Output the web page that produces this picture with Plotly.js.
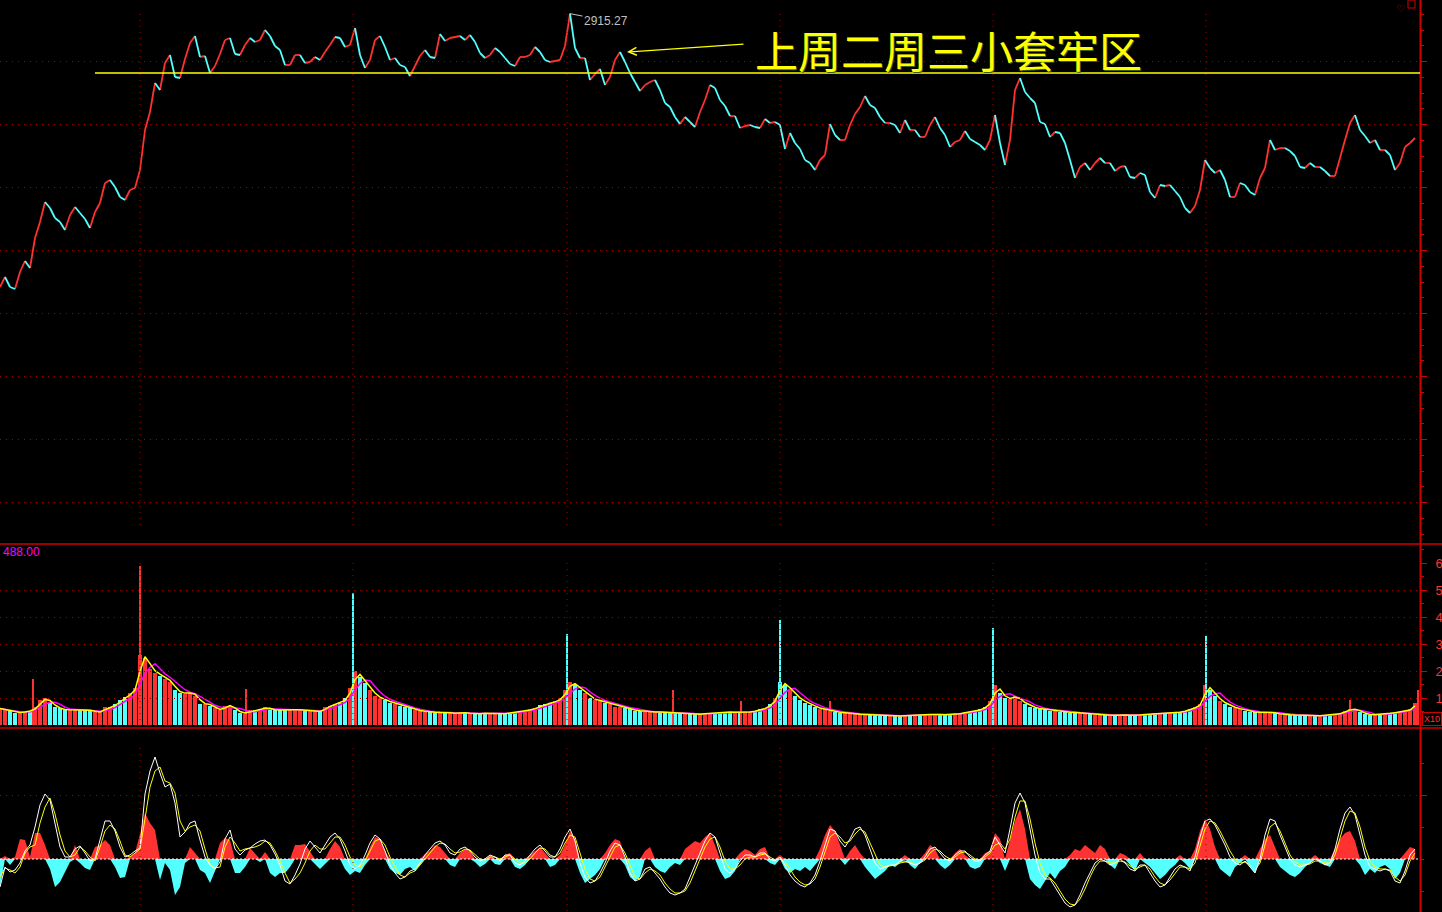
<!DOCTYPE html>
<html><head><meta charset="utf-8">
<script src="https://cdn.plot.ly/plotly-3.0.1.min.js"></script>
<style>html,body{margin:0;padding:0;background:#000;overflow:hidden}#chart{width:1442px;height:912px}</style>
</head><body><div id="chart"></div>
<script>
// ---- data (one sample per ~5.6 trading minutes) ----
const price = [
2860.6,2862.6,2860.6,2860.2,2863.6,2865.8,2864.4,2870.4,2873.6,2877.6,2876.4,2874.4,2873.6,2872.0,2875.0,2876.6,2875.4,2874.2,2872.4,2875.6,
2877.4,2881.4,2882.0,2880.6,2878.6,2878.0,2880.0,2880.4,2884.0,2892.0,2895.6,2901.4,2900.0,2905.4,2907.0,2902.6,2902.4,2906.2,2909.4,2910.8,
2906.6,2906.8,2903.4,2904.8,2907.2,2910.0,2910.4,2907.2,2907.0,2909.0,2910.4,2909.6,2910.0,2912.0,2910.8,2908.8,2908.0,2905.0,2905.0,2907.0,
2907.0,2905.4,2905.6,2906.6,2906.0,2907.6,2909.0,2910.6,2910.4,2908.6,2909.0,2912.4,2907.0,2904.4,2906.0,2910.0,2910.8,2908.6,2906.0,2906.4,
2905.0,2904.6,2902.8,2904.8,2906.8,2908.0,2906.6,2906.4,2911.2,2909.8,2910.4,2910.6,2910.8,2910.0,2911.0,2909.6,2907.4,2906.4,2907.0,2908.4,
2907.6,2906.4,2905.2,2904.8,2906.6,2906.6,2907.0,2908.6,2907.6,2906.0,2905.6,2905.8,2906.0,2908.8,2915.27,2908.4,2906.4,2906.4,2902.0,2903.2,
2904.2,2901.0,2902.6,2906.0,2907.6,2905.6,2903.4,2901.6,2899.8,2901.0,2901.6,2902.0,2900.0,2897.4,2896.6,2894.6,2893.2,2894.6,2893.6,2892.6,
2895.6,2898.0,2901.0,2900.4,2898.0,2896.8,2894.8,2894.8,2892.4,2892.8,2893.0,2892.6,2892.4,2894.2,2893.4,2893.6,2893.0,2888.2,2891.4,2889.4,
2888.2,2886.0,2885.4,2884.0,2886.0,2887.0,2893.2,2891.0,2890.0,2890.0,2893.0,2895.2,2896.6,2898.8,2897.0,2896.4,2894.6,2893.4,2893.4,2893.0,
2891.4,2894.0,2892.0,2892.0,2890.6,2890.6,2893.0,2894.6,2892.4,2891.0,2888.6,2889.6,2890.0,2891.8,2890.2,2889.6,2889.0,2888.0,2890.0,2895.0,
2889.4,2885.0,2890.0,2900.0,2902.4,2899.6,2898.4,2897.4,2893.6,2893.2,2890.6,2891.6,2891.4,2889.4,2886.0,2882.4,2884.6,2885.4,2884.0,2885.4,
2886.4,2885.4,2885.4,2883.8,2884.6,2884.8,2882.6,2882.4,2883.4,2883.0,2879.6,2878.4,2881.0,2880.8,2881.0,2879.8,2878.6,2876.4,2875.4,2876.8,
2880.0,2886.0,2884.4,2883.4,2884.0,2882.0,2878.6,2878.6,2881.4,2881.0,2879.6,2879.0,2882.4,2884.4,2890.0,2888.0,2888.4,2888.4,2887.8,2886.8,
2884.6,2884.4,2885.4,2884.6,2884.6,2883.8,2882.8,2882.8,2886.4,2890.0,2893.4,2895.0,2892.0,2890.8,2889.4,2890.0,2888.0,2888.0,2887.0,2884.0,
2885.4,2888.6,2889.4,2890.4];

const volume = [
0.63,0.56,0.52,0.48,0.48,0.52,0.55,0.67,0.93,1.0,0.85,0.67,0.63,0.56,0.6,0.56,0.6,0.56,0.56,0.5,
0.5,0.67,0.67,0.81,0.93,1.04,1.22,1.4,2.6,2.5,2.1,1.96,1.85,1.74,1.6,1.3,1.22,1.18,1.22,1.1,
0.81,0.81,0.74,0.63,0.56,0.74,0.74,0.56,0.48,0.44,0.56,0.56,0.6,0.67,0.6,0.56,0.58,0.58,0.56,0.6,
0.56,0.58,0.56,0.52,0.52,0.67,0.74,0.81,0.85,1.0,1.4,2.0,1.78,1.56,1.3,1.1,1.0,0.93,0.85,0.81,
0.74,0.67,0.63,0.56,0.55,0.5,0.5,0.48,0.48,0.5,0.45,0.45,0.5,0.45,0.45,0.42,0.45,0.45,0.45,0.45,
0.42,0.45,0.48,0.5,0.5,0.55,0.6,0.65,0.75,0.8,0.85,0.9,1.0,1.3,1.6,1.5,1.3,1.2,1.0,0.95,
0.9,0.85,0.8,0.7,0.7,0.65,0.6,0.55,0.55,0.5,0.5,0.5,0.5,0.48,0.5,0.45,0.45,0.45,0.45,0.42,
0.42,0.45,0.45,0.45,0.48,0.5,0.5,0.48,0.5,0.5,0.5,0.55,0.6,0.65,0.8,1.0,1.6,1.5,1.3,1.1,
0.95,0.85,0.75,0.7,0.6,0.6,0.55,0.5,0.48,0.45,0.45,0.42,0.42,0.4,0.4,0.38,0.38,0.38,0.38,0.35,
0.35,0.38,0.38,0.4,0.4,0.4,0.42,0.42,0.4,0.4,0.42,0.42,0.45,0.5,0.5,0.55,0.6,0.7,0.9,1.5,
1.2,1.0,1.0,1.1,0.9,0.8,0.7,0.65,0.6,0.6,0.55,0.55,0.5,0.5,0.48,0.48,0.45,0.45,0.42,0.4,
0.4,0.38,0.38,0.38,0.4,0.38,0.38,0.38,0.4,0.42,0.42,0.45,0.45,0.45,0.45,0.48,0.5,0.55,0.6,0.7,
0.8,1.5,1.3,1.1,0.9,0.8,0.7,0.65,0.6,0.55,0.5,0.5,0.48,0.5,0.5,0.45,0.42,0.4,0.4,0.38,
0.38,0.38,0.35,0.35,0.38,0.38,0.4,0.42,0.45,0.55,0.6,0.6,0.5,0.42,0.4,0.4,0.42,0.45,0.45,0.5,
0.5,0.55,0.6,0.85];

// single-minute volume spikes (time in sample units)
const spikeTime   = [6.6, 28, 49.2, 70.6, 113.4, 134.6, 148.2, 156, 166, 198.6, 241.2, 270, 283.6];
const spikeVolume = [1.74, 5.9, 1.37, 4.9, 3.4, 1.3, 0.9, 3.9, 0.9, 3.6, 3.3, 0.93, 1.33];
const spikeUp     = [1, 1, 1, 0, 0, 1, 1, 0, 1, 0, 0, 1, 1];

const dif = [
-2.8,-0.8,-1.3,-1.1,-0.4,0.8,1.4,3.2,5.4,6.5,5.9,3.5,1.2,0.2,0.2,1.0,1.3,0.6,-0.2,0,
2.0,3.8,3.8,2.8,1.2,0.2,0.4,0.8,1.1,6.5,8.8,10.2,8.6,7.2,7.5,5.6,2.2,2.7,3.6,3.8,
1.9,0.2,-0.6,-1.0,-0.3,2.0,2.9,1.0,0.4,0.9,1.1,1.5,1.8,1.9,1.4,0.5,-0.6,-2.2,-2.5,-1.6,
-0.5,1.0,1.8,1.2,0.6,1.4,2.2,2.6,2.0,0.8,-0.6,-1.0,-0.6,0.4,1.6,2.4,2.0,0.8,-0.6,-1.4,
-2.0,-1.8,-1.2,-1.0,-0.4,0.4,1.0,1.6,1.8,1.4,0.6,0.4,1.0,1.2,0.8,0.2,-0.2,0,0.4,0.2,
-0.2,0.4,0.4,-0.4,-0.6,-0.2,0.4,1.0,1.4,0.8,0.2,0.2,1.0,2.2,3.0,1.8,-0.4,-1.8,-2.4,-2.2,
-1.4,-0.4,0.8,1.6,1.4,0.2,-1.4,-2.2,-2.0,-1.0,-0.8,-1.4,-2.0,-2.8,-3.4,-3.6,-3.4,-3.0,-1.8,-0.6,
0.6,1.8,2.6,2.2,0.6,-1.0,-1.4,-1.0,-0.2,0.4,0.4,0.2,0.6,0.6,0,-0.2,0.2,-0.6,-1.6,-2.2,
-2.6,-2.8,-2.4,-1.6,-0.2,1.4,3.0,2.8,1.8,1.2,2.0,3.0,3.2,2.4,1.0,-0.4,-1.0,-0.8,-0.6,-0.6,
-0.2,-0.2,-0.4,-0.6,-0.4,0.2,1.0,1.2,0.6,0,-0.2,0.4,0.8,0.8,0.2,-0.2,-0.2,0.4,0.8,2.2,
1.4,0.6,3.0,5.6,6.6,5.6,3.0,0.4,-1.4,-2.0,-2.0,-2.8,-3.6,-4.4,-4.8,-4.6,-3.6,-2.4,-1.4,-0.4,
0,-0.2,-0.6,-0.4,0,-0.4,-1.0,-1.2,-0.6,-0.6,-1.4,-2.2,-2.8,-2.6,-1.8,-1.0,-0.6,-0.8,-1.2,0.2,
2.2,3.8,4.0,3.4,2.4,1.4,0.2,-0.4,-0.6,-0.2,-0.8,-1.4,0,2.4,4.0,3.8,2.4,1.2,0,-0.6,
-0.8,-0.6,-0.4,0,-0.2,-0.6,-0.4,1.0,3.0,4.6,5.2,4.4,2.4,0.4,-0.8,-1.0,-1.2,-1.0,-1.2,-2.2,
-2.4,-1.2,0.4,1.0];

const dea = [
-1.8,-0.9,-1.1,-1.4,-0.8,0.6,1.2,1.4,3.6,5.2,6.1,4.5,2.4,0.8,0.2,0.4,1.2,0.8,0.2,-0.2,
1.2,2.8,3.4,3.0,1.8,0.4,0.2,0.6,1.0,4.0,7.2,8.8,9.2,7.8,7.6,6.6,3.8,2.8,3.2,3.4,
2.8,1.0,-0.6,-0.9,-0.8,1.2,2.2,1.6,0.8,1.0,1.1,1.2,1.4,1.8,1.6,0.8,-0.2,-1.4,-2.4,-2.0,
-1.4,-0.4,0.8,1.4,1.0,1.0,1.6,2.2,2.2,1.4,0.2,-0.6,-0.8,-0.2,0.8,1.8,2.0,1.4,0.2,-0.8,
-1.6,-1.8,-1.4,-1.2,-0.6,0,0.6,1.2,1.6,1.5,1.0,0.6,0.7,1.0,0.9,0.4,0,-0.1,0.2,0.2,
0,0.2,0.4,0,-0.4,-0.4,0,0.6,1.1,1.0,0.4,0.2,0.6,1.6,2.4,2.2,0.6,-1.0,-2.0,-2.2,
-1.8,-0.8,0.2,1.2,1.4,0.6,-0.6,-1.8,-2.0,-1.4,-1.0,-1.2,-1.6,-2.4,-3.0,-3.4,-3.4,-3.2,-2.4,-1.2,
0,1.2,2.0,2.2,1.2,-0.2,-1.0,-1.0,-0.6,0,0.2,0.2,0.4,0.5,0.2,-0.1,0,-0.3,-1.0,-1.8,
-2.3,-2.6,-2.5,-2.0,-0.8,0.6,2.2,2.6,2.2,1.6,1.8,2.5,3.0,2.7,1.6,0.4,-0.6,-0.8,-0.7,-0.6,
-0.4,-0.3,-0.3,-0.5,-0.4,-0.1,0.6,1.0,0.8,0.3,0,0.2,0.6,0.7,0.4,0,-0.1,0.2,0.6,1.4,
1.6,1.0,2.0,4.2,5.8,5.8,4.0,1.6,-0.4,-1.6,-1.9,-2.4,-3.2,-4.0,-4.5,-4.6,-4.0,-3.0,-1.8,-0.8,
-0.2,-0.2,-0.4,-0.4,-0.2,-0.3,-0.7,-1.0,-0.8,-0.6,-1.0,-1.8,-2.4,-2.6,-2.1,-1.4,-0.8,-0.8,-1.0,-0.4,
1.2,3.0,3.8,3.6,2.8,1.8,0.8,0,-0.4,-0.3,-0.6,-1.1,-0.4,1.4,3.2,3.6,2.8,1.6,0.4,-0.3,
-0.6,-0.6,-0.5,-0.2,-0.2,-0.4,-0.4,0.4,2.0,3.8,4.8,4.6,3.2,1.2,-0.2,-0.8,-1.0,-1.0,-1.1,-1.8,
-2.2,-1.6,-0.2,0.6];

const macdHist = [
-2.8,0.3,-0.6,0.2,2.0,1.9,0.2,2.6,2.6,1.4,-1.0,-2.8,-2.3,-1.3,-0.3,1.4,-0.4,-0.9,-1.1,1.2,
1.4,1.9,1.4,-0.8,-1.9,-1.8,0.2,0.6,2.5,4.6,3.6,2.9,-2.1,-0.4,-1.1,-3.6,-2.8,-0.4,1.2,0.6,
-1.1,-1.4,-2.4,-1.1,1.6,2.1,1.9,-1.4,-1.4,-0.8,1.1,0.6,-0.3,0.7,-1.4,-1.8,-1.4,-1.4,-0.8,1.4,
1.4,1.5,0.8,-0.5,-1.0,-0.5,1.0,1.8,1.2,-1.0,-1.6,-1.2,-1.4,-0.6,1.2,2.2,2.0,0.8,-1.0,-1.4,
-1.6,-1.0,-0.8,-1.2,-0.6,0.5,0.8,1.4,1.2,0.6,-0.6,-0.8,0.6,1.0,0.8,-0.3,-0.8,-0.5,0.4,-0.5,
-0.6,0.4,0.6,-0.8,-1.0,-0.6,0.4,0.8,1.2,0.6,-0.8,-0.6,0.4,1.4,2.8,2.0,-1.4,-2.4,-2.0,-1.6,
-1.0,0.6,1.4,2.0,1.8,-0.6,-1.8,-2.2,-1.8,0.8,1.2,-0.8,-1.2,-1.4,-0.8,-0.4,-0.6,1.0,1.4,1.8,
1.6,2.2,2.6,1.4,-1.2,-2.0,-1.8,-1.2,0.6,1.0,0.8,0.4,1.0,1.2,-0.4,-0.6,0.4,-1.0,-1.4,-1.0,
-1.2,-0.8,-1.2,-0.6,1.0,2.4,3.4,2.8,1.4,-0.6,0.8,1.4,0.6,-0.8,-1.4,-2.0,-1.6,-1.2,-0.6,-0.8,
-0.4,0.4,-0.6,-1.0,-0.4,0.6,1.4,1.0,-0.6,-1.0,-0.6,0.6,1.0,0.4,-0.8,-1.0,-0.8,0.6,0.8,2.6,
2.0,-1.2,1.8,3.8,5.0,3.0,-2.0,-2.6,-3.0,-2.2,-1.4,-2.0,-1.2,-0.8,0.4,1.0,0.8,1.4,1.0,0.6,
1.4,1.0,-0.6,-1.0,0.6,0.4,-0.6,-1.2,0.6,-0.4,-0.8,-1.4,-2.0,-1.6,-1.0,-0.6,0.4,-0.4,-1.0,1.0,
2.8,4.0,3.0,1.2,-1.0,-1.4,-1.8,-0.8,-0.4,0.4,-0.8,-1.4,1.0,2.0,2.4,1.2,-0.8,-1.2,-1.6,-1.8,
-1.4,-0.8,-0.4,0.4,-0.4,-0.6,-0.8,1.0,2.0,2.6,2.8,1.8,-0.6,-1.6,-1.0,-1.4,-0.8,-0.6,-1.0,-2.0,
-1.4,0.6,1.2,1.0];

const sessionStarts = [28, 70.6, 113.4, 156, 198.6, 241.2];
const peakIndex = 114, peakLabel = '2915.27';
const pressureLevel = 2903.4, pressureStart = 19;
const noteText = '上周二周三小套牢区';
const noteTarget = {t: 125.4, p: 2907.6};
const priceGrid = [2905.66, 2893.06, 2880.46, 2867.86, 2855.26, 2842.66, 2830.06, 2817.46];
const volTicks = [1, 2, 3, 4, 5, 6];
const volScaleLabel = '488.00';
const macdGrid = [6.4];

// ---- styling ----
const RED = '#ff3232', CYAN = '#54ffff', AXIS = '#d20000', GRID = '#a80000';
const PW = 1420, PH = 912;
const fy = px => 1 - px / PH;
const fx = px => px / PW;
const N = price.length;
const t = price.map((_, i) => i);

// price segments coloured by direction
const up = {x: [], y: []}, dn = {x: [], y: []};
for (let i = 1; i < N; i++) {
  const s = price[i] >= price[i - 1] ? up : dn;
  s.x.push(i - 1, i, null); s.y.push(price[i - 1], price[i], null);
}
const volColors = price.map((p, i) => (i === 0 || p >= price[i - 1]) ? RED : CYAN);
function movAvg(a, n) {
  return a.map((_, i) => { const s = Math.max(0, i - n + 1); let m = 0; for (let k = s; k <= i; k++) m += a[k]; return m / (i - s + 1); });
}

const traces = [
  {x: up.x, y: up.y, type: 'scatter', mode: 'lines', line: {color: RED, width: 1.8}, xaxis: 'x', yaxis: 'y', hoverinfo: 'skip'},
  {x: dn.x, y: dn.y, type: 'scatter', mode: 'lines', line: {color: CYAN, width: 1.8}, xaxis: 'x', yaxis: 'y', hoverinfo: 'skip'},
  {x: t, y: volume, type: 'bar', width: 0.85, marker: {color: volColors, line: {width: 0}}, xaxis: 'x', yaxis: 'y2'},
  {x: spikeTime, y: spikeVolume, type: 'bar', width: 0.32, marker: {color: spikeUp.map(u => u ? RED : CYAN), line: {width: 0}}, xaxis: 'x', yaxis: 'y2'},
  {x: t, y: movAvg(volume, 4), type: 'scatter', mode: 'lines', line: {color: '#ff00ff', width: 1.5}, xaxis: 'x', yaxis: 'y2'},
  {x: t, y: movAvg(volume, 2), type: 'scatter', mode: 'lines', line: {color: '#ffff00', width: 1.5}, xaxis: 'x', yaxis: 'y2'},
  {x: t, y: macdHist.map(v => v > 0 ? v : 0), type: 'scatter', mode: 'lines', fill: 'tozeroy', fillcolor: RED, line: {width: 0, color: RED}, xaxis: 'x', yaxis: 'y3'},
  {x: t, y: macdHist.map(v => v < 0 ? v : 0), type: 'scatter', mode: 'lines', fill: 'tozeroy', fillcolor: CYAN, line: {width: 0, color: CYAN}, xaxis: 'x', yaxis: 'y3'},
  {x: t, y: dea, type: 'scatter', mode: 'lines', line: {color: '#ffff00', width: 1}, xaxis: 'x', yaxis: 'y3'},
  {x: t, y: dif, type: 'scatter', mode: 'lines', line: {color: '#ffffff', width: 1}, xaxis: 'x', yaxis: 'y3'}
];

const minorPrice = [];
for (let k = -1; k < priceGrid.length; k++) {
  const g = k < 0 ? priceGrid[0] + 12.6 : priceGrid[k];
  minorPrice.push(g - 3.15, g - 6.3, g - 9.45);
}

const shapes = [];
// right axis line and panel separators
shapes.push({type: 'line', xref: 'paper', yref: 'paper', x0: fx(1420.5), x1: fx(1420.5), y0: 0, y1: 1, line: {color: AXIS, width: 2}});
shapes.push({type: 'line', xref: 'paper', yref: 'paper', x0: 0, x1: fx(1442), y0: fy(544), y1: fy(544), line: {color: AXIS, width: 1.5}});
shapes.push({type: 'line', xref: 'paper', yref: 'paper', x0: 0, x1: fx(1442), y0: fy(728), y1: fy(728), line: {color: AXIS, width: 1.5}});
// volume grid lines
[1, 2, 3, 4, 5].forEach(v => shapes.push({type: 'line', xref: 'paper', yref: 'y2', x0: 0, x1: 1, y0: v, y1: v, line: {color: GRID, width: 1, dash: '1px,5px'}}));
// MACD zero line
shapes.push({type: 'line', xref: 'paper', yref: 'y3', x0: 0, x1: 1, y0: 0, y1: 0, line: {color: '#ffffff', width: 1, dash: '2px,2px'}});
// session separators
sessionStarts.forEach(s => {
  [[14, 530], [563, 726], [748, 912]].forEach(([a, b]) => shapes.push({type: 'line', xref: 'x', yref: 'paper', x0: s, x1: s, y0: fy(a), y1: fy(b), line: {color: GRID, width: 1, dash: '1px,5px'}}));
});
// pressure line
shapes.push({type: 'line', xref: 'x', yref: 'y', x0: pressureStart, x1: N, y0: pressureLevel, y1: pressureLevel, line: {color: '#ffff00', width: 1.3}});
// tiny icon box top-right
shapes.push({type: 'rect', xref: 'paper', yref: 'paper', x0: fx(1408), x1: fx(1415), y0: fy(8), y1: fy(0), line: {color: AXIS, width: 1}});

const annotations = [
  {xref: 'paper', yref: 'paper', x: fx(753), y: fy(49), xanchor: 'left', yanchor: 'middle', text: noteText, showarrow: false,
   font: {family: 'Noto Sans CJK SC', size: 43, color: '#ffff00', shadow: '1px 1px 0px #3d5c00'}},
  {xref: 'x', yref: 'y', x: noteTarget.t, y: noteTarget.p, text: '', showarrow: true, ax: 118, ay: -8,
   arrowhead: 5, arrowsize: 1.3, arrowwidth: 1.2, arrowcolor: '#ffff00', standoff: 0},
  {xref: 'x', yref: 'y', x: peakIndex, y: price[peakIndex], text: peakLabel, showarrow: true, ax: 36, ay: 7,
   arrowhead: 0, arrowwidth: 1, arrowcolor: '#c0c0c0', standoff: 0, font: {family: 'Liberation Sans', size: 12, color: '#c0c0c0'}},
  {xref: 'paper', yref: 'paper', x: fx(1), y: fy(552), xanchor: 'left', yanchor: 'middle', text: volScaleLabel, showarrow: false,
   font: {family: 'Liberation Sans', size: 12, color: '#ff00ff'}},
  {xref: 'paper', yref: 'paper', x: fx(1422), y: fy(719), xanchor: 'left', yanchor: 'middle', text: 'X10', showarrow: false,
   font: {family: 'Liberation Sans', size: 9, color: RED}, bordercolor: AXIS, borderwidth: 1, borderpad: 1},
  {xref: 'paper', yref: 'paper', x: fx(1400), y: fy(1), xanchor: 'center', yanchor: 'top', text: '♡', showarrow: false,
   font: {family: 'DejaVu Sans', size: 10, color: AXIS}}
];

const layout = {
  width: 1442, height: 912,
  margin: {l: 0, r: 22, t: 0, b: 0, pad: 0},
  paper_bgcolor: '#000', plot_bgcolor: '#000',
  showlegend: false, hovermode: false, barmode: 'overlay', bargap: 0,
  xaxis: {domain: [0, 1], range: [0, 284], visible: false, anchor: 'y3', fixedrange: true},
  yaxis: {domain: [fy(544), 1], range: [2809.2, 2918], anchor: 'x', side: 'right', tickvals: priceGrid, showticklabels: false,
    ticks: 'outside', ticklen: 6, tickwidth: 1, tickcolor: AXIS, showgrid: true, gridcolor: GRID, gridwidth: 1, griddash: '1px,5px',
    zeroline: false, showline: false,
    minor: {tickvals: minorPrice, ticks: 'outside', ticklen: 3, tickcolor: AXIS, showgrid: false}},
  yaxis2: {domain: [fy(727), fy(545)], range: [-0.056, 6.685], anchor: 'x', side: 'right', tickvals: volTicks, ticktext: volTicks.map(String),
    tickfont: {family: 'Liberation Sans', size: 13, color: RED}, ticks: 'outside', ticklen: 6, tickwidth: 1, tickcolor: AXIS,
    ticklabelstandoff: 6, showgrid: false, zeroline: false, showline: false,
    minor: {tickvals: [0.5, 1.5, 2.5, 3.5, 4.5, 5.5, 6.5], ticks: 'outside', ticklen: 3, tickcolor: AXIS, showgrid: false}},
  yaxis3: {domain: [0, fy(730)], range: [-5.3, 12.9], anchor: 'x', side: 'right', tickvals: macdGrid, showticklabels: false,
    ticks: 'outside', ticklen: 6, tickwidth: 1, tickcolor: AXIS, showgrid: true, gridcolor: GRID, gridwidth: 1, griddash: '1px,5px',
    zeroline: false, showline: false,
    minor: {tickvals: [-3.2, 0, 3.2, 9.6], ticks: 'outside', ticklen: 3, tickcolor: AXIS, showgrid: false}},
  shapes: shapes,
  annotations: annotations
};

Plotly.newPlot('chart', traces, layout, {staticPlot: true, displayModeBar: false});
</script>
</body></html>
